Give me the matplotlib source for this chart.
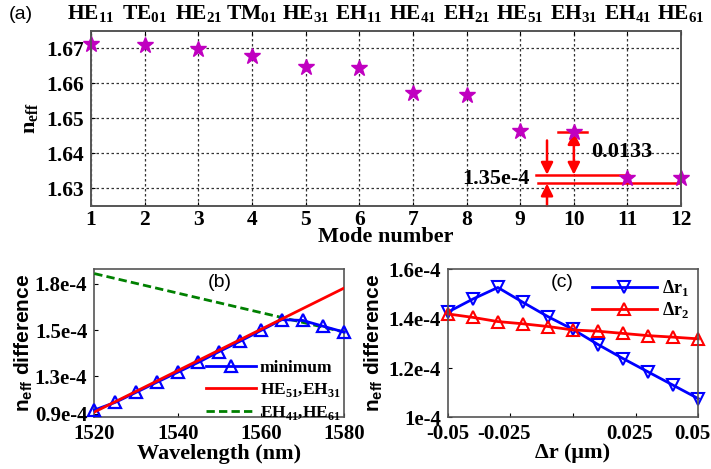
import matplotlib
matplotlib.use("Agg")
import matplotlib.pyplot as plt
from matplotlib.ticker import FixedLocator, FixedFormatter
from matplotlib.transforms import ScaledTranslation

plt.rcParams['font.family'] = ['Liberation Serif', 'DejaVu Serif']
plt.rcParams['font.weight'] = 'bold'
plt.rcParams['axes.labelweight'] = 'bold'
plt.rcParams['mathtext.fontset'] = 'custom'
plt.rcParams['mathtext.rm'] = 'Liberation Serif:bold'
plt.rcParams['mathtext.bf'] = 'Liberation Serif:bold'
plt.rcParams['mathtext.sf'] = 'Liberation Sans:bold'
plt.rcParams['axes.edgecolor'] = '#555555'
plt.rcParams['axes.linewidth'] = 1.2

# ---------------- data ----------------
# (a) effective index of each mode
mode_number = [1, 2, 3, 4, 5, 6, 7, 8, 9, 10, 11, 12]
mode_names = ['HE$_{11}$', 'TE$_{01}$', 'HE$_{21}$', 'TM$_{01}$', 'HE$_{31}$', 'EH$_{11}$',
              'HE$_{41}$', 'EH$_{21}$', 'HE$_{51}$', 'EH$_{31}$', 'EH$_{41}$', 'HE$_{61}$']
n_eff = [1.6714, 1.6709, 1.6697, 1.6678, 1.6648, 1.6645,
         1.6572, 1.6567, 1.6465, 1.6460, 1.6331, 1.6329]

# (b) n_eff difference vs wavelength (units of 1e-4)
wavelength = [1520, 1525, 1530, 1535, 1540, 1545, 1550, 1555, 1560, 1565, 1570, 1575, 1580]
diff_min = [0.990, 1.039, 1.103, 1.168, 1.232, 1.296, 1.365, 1.431, 1.500, 1.569, 1.564, 1.526, 1.489]
wl_line = [1520, 1580]
diff_he51_eh31 = [0.977, 1.772]
diff_eh41_he61 = [1.864, 1.489]
b_tick_vals = [0.968, 1.206, 1.5, 1.8]
b_tick_labels = ['0.9e-4', '1.3e-4', '1.5e-4', '1.8e-4']

# (c) n_eff difference vs radius change (units of 1e-4)
delta_r = [-0.05, -0.04, -0.03, -0.02, -0.01, 0.0, 0.01, 0.02, 0.03, 0.04, 0.05]
diff_r1 = [1.426, 1.479, 1.526, 1.466, 1.408, 1.356, 1.295, 1.238, 1.184, 1.130, 1.076]
diff_r2 = [1.419, 1.405, 1.388, 1.379, 1.368, 1.354, 1.349, 1.340, 1.331, 1.325, 1.318]
c_ticks = [-0.05, -0.025, 0.0, 0.025, 0.05]
c_tick_labels = ['-0.05', '-0.025', '', '0.025', '0.05']

fig = plt.figure(figsize=(7.11, 4.69), dpi=100)

# ================= panel (a) =================
ax1 = fig.add_axes([0.128, 0.561, 0.830, 0.373])
ax1.plot(mode_number, n_eff, linestyle='none', marker='*', markersize=12,
         color='#c000c0', clip_on=False, zorder=5)
ax1.set_xlim(1, 12)
ax1.set_ylim(1.625, 1.675)
ax1.set_xticks(mode_number)
ax1.set_yticks([1.63, 1.64, 1.65, 1.66, 1.67])
ax1.set_yticklabels(['1.63', '1.64', '1.65', '1.66', '1.67'])
ax1.grid(True, linestyle=(0, (2, 2)), color='#333333', linewidth=0.9)
ax1.tick_params(labelsize=15.5, direction='in', length=3, pad=3)
ax1.tick_params(axis='y', pad=5)
ax1.set_xlabel('Mode number', fontsize=16, labelpad=-2)
ax1.set_ylabel(r'n$_{\mathrm{eff}}$', fontsize=16, labelpad=4)

top = ax1.twiny()
top.set_xlim(ax1.get_xlim())
top.set_xticks(mode_number)
top.set_xticklabels(mode_names)
top.tick_params(labelsize=15.5, direction='in', length=3, pad=4)

red = '#ff0000'
ax1.plot([9.29, 11.03], [1.6339, 1.6339], color=red, lw=1.8)
ax1.plot([9.33, 12.0], [1.6314, 1.6314], color=red, lw=1.8)
ax1.plot([9.71, 10.25], [1.6461, 1.6461], color=red, lw=1.8)
arrow_kw = dict(color=red, lw=1.8, shrinkA=0, shrinkB=0, mutation_scale=18)
ax1.annotate('', xy=(10, 1.6461), xytext=(10, 1.6339),
             arrowprops=dict(arrowstyle='<|-|>', **arrow_kw))
ax1.annotate('', xy=(9.5, 1.6339), xytext=(9.5, 1.6437),
             arrowprops=dict(arrowstyle='-|>', **arrow_kw))
ax1.annotate('', xy=(9.5, 1.6314), xytext=(9.5, 1.625),
             arrowprops=dict(arrowstyle='-|>', **arrow_kw), annotation_clip=False)
ax1.text(10.32, 1.6405, '0.0133', fontsize=16, ha='left', va='center')
ax1.text(9.18, 1.6328, '1.35e-4', fontsize=16, ha='right', va='center')
fig.text(0.012, 0.97, '(a)', fontsize=14, family='Liberation Sans',
         weight='normal', va='center')

# ================= panel (b) =================
ax2 = fig.add_axes([0.1326, 0.110, 0.3517, 0.316])
ax2.plot(wavelength, diff_min, color='#0000ff', lw=2, marker='^', markersize=9,
         markerfacecolor='none', markeredgewidth=1.6, label='minimum', clip_on=False, zorder=4)
ax2.plot(wl_line, diff_he51_eh31, color=red, lw=2,
         label='HE$_{51}$,EH$_{31}$', zorder=5)
ax2.plot(wl_line, diff_eh41_he61, color='#008000', lw=2, linestyle=(0, (3, 1.5)),
         label='EH$_{41}$,HE$_{61}$', zorder=3)
ax2.set_xlim(1520, 1580)
ax2.set_ylim(0.943, 1.892)
ax2.set_xticks([1520, 1540, 1560, 1580])
ax2.yaxis.set_major_locator(FixedLocator(b_tick_vals))
ax2.yaxis.set_major_formatter(FixedFormatter(b_tick_labels))
ax2.tick_params(labelsize=15, direction='in', length=3, pad=5)
ax2.set_xlabel('Wavelength (nm)', fontsize=16, labelpad=0)
ax2.set_ylabel(r'$\mathsf{n_{eff}}$ difference', fontsize=15,
               family='Liberation Sans', fontweight='bold', labelpad=0)
ax2.legend(loc='lower right', bbox_to_anchor=(1.02, -0.09), frameon=False,
           fontsize=12.5, handlelength=2.9, handletextpad=0.2, labelspacing=0.3,
           borderaxespad=0.1)
ax2.text(0.5, 0.91, '(b)', transform=ax2.transAxes, fontsize=14,
         family='Liberation Sans', weight='normal', ha='center', va='center')

# ================= panel (c) =================
ax3 = fig.add_axes([0.6297, 0.110, 0.3525, 0.316])
ax3.plot(delta_r, diff_r1, color='#0000ff', lw=2, marker='v', markersize=8,
         markerfacecolor='none', markeredgewidth=1.5, label=r'Δr$_{1}$', clip_on=False)
ax3.plot(delta_r, diff_r2, color=red, lw=2, marker='^', markersize=8,
         markerfacecolor='none', markeredgewidth=1.5, label=r'Δr$_{2}$', clip_on=False)
ax3.set_xlim(-0.05, 0.05)
ax3.set_ylim(1.0, 1.6)
ax3.set_xticks(c_ticks)
ax3.set_xticklabels(c_tick_labels)
ax3.set_yticks([1.0, 1.2, 1.4, 1.6])
ax3.set_yticklabels(['1e-4', '1.2e-4', '1.4e-4', '1.6e-4'])
ax3.tick_params(labelsize=15, direction='in', length=3, pad=5)
# pull the tick labels slightly left, like the original
for lab in ax3.get_xticklabels()[1:]:
    lab.set_transform(lab.get_transform() + ScaledTranslation(-0.06, 0, fig.dpi_scale_trans))
ax3.set_xlabel('Δr (μm)', fontsize=16, labelpad=-1)
ax3.set_ylabel(r'$\mathsf{n_{eff}}$ difference', fontsize=15,
               family='Liberation Sans', fontweight='bold', labelpad=2)
ax3.legend(loc='upper right', frameon=False, fontsize=13, handlelength=3.6,
           handletextpad=0.3, labelspacing=0.12, borderaxespad=0.1)
ax3.text(0.455, 0.91, '(c)', transform=ax3.transAxes, fontsize=14,
         family='Liberation Sans', weight='normal', ha='center', va='center')

fig.savefig('out.png', dpi=100)
